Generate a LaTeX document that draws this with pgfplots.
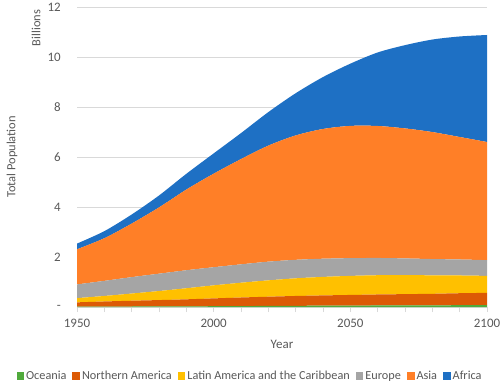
\documentclass[border=0pt]{standalone}
\usepackage{fontspec}
\setmainfont{Carlito}
\usepackage{pgfplots}
\pgfplotsset{compat=1.18}
\definecolor{cAfrica}{RGB}{30,112,196}
\definecolor{cAsia}{RGB}{255,127,39}
\definecolor{cEurope}{RGB}{165,165,165}
\definecolor{cLatam}{RGB}{255,192,0}
\definecolor{cNam}{RGB}{220,90,5}
\definecolor{cOce}{RGB}{80,170,60}
\definecolor{gridgray}{RGB}{217,217,217}
\definecolor{textgray}{RGB}{89,89,89}
\pgfplotstableread{
year oce nam latam europe asia africa
1950 0.013 0.173 0.169 0.549 1.405 0.228
1960 0.016 0.205 0.220 0.605 1.705 0.283
1970 0.020 0.231 0.287 0.657 2.142 0.363
1980 0.023 0.254 0.362 0.694 2.650 0.477
1990 0.027 0.280 0.443 0.721 3.226 0.630
2000 0.031 0.313 0.522 0.726 3.741 0.811
2010 0.037 0.343 0.591 0.736 4.210 1.039
2020 0.043 0.369 0.654 0.748 4.641 1.341
2030 0.048 0.393 0.706 0.741 4.974 1.688
2040 0.053 0.410 0.741 0.728 5.189 2.077
2050 0.057 0.425 0.762 0.710 5.290 2.489
2060 0.061 0.440 0.770 0.690 5.280 2.940
2070 0.064 0.450 0.760 0.670 5.200 3.330
2080 0.068 0.460 0.740 0.650 5.080 3.700
2090 0.071 0.480 0.710 0.640 4.900 4.020
2100 0.075 0.490 0.680 0.630 4.725 4.280
}\popdata
\begin{document}
\begin{tikzpicture}
\useasboundingbox (-77bp,-83bp) rectangle (423bp,307bp);
\begin{axis}[
  at={(0,0)}, anchor=south west,
  scale only axis, width=410bp, height=300bp,
  xmin=1950, xmax=2100, ymin=0, ymax=12,
  xtick={1950,2000,2050,2100},
  minor xtick={1960,1970,1980,1990,2010,2020,2030,2040,2060,2070,2080,2090},
  xticklabels={1950,2000,2050,2100},
  ytick={0,2,4,6,8,10,12},
  yticklabels={{-\hspace{6bp}},2,4,6,8,10,12},
  ymajorgrids, grid style={gridgray, line width=0.8pt},
  axis x line*=bottom, axis y line*=left,
  x axis line style={gridgray, line width=0.8pt, -},
  y axis line style={draw=none},
  tick align=outside,
  major tick length=5bp, minor tick length=5bp,
  tick style={gridgray, line width=0.8pt},
  ytick style={draw=none},
  every tick label/.append style={text=textgray, font=\fontsize{13}{15}\selectfont},
  yticklabel style={inner sep=0pt, xshift=-11bp},
  xticklabel style={inner sep=0pt, yshift=-7bp},
  stack plots=y,
  clip=false,
  legend columns=-1,
  legend style={at={(0.422,-0.23)}, anchor=center, draw=none,
    font=\fontsize{12.3}{14}\selectfont, text=textgray,
    /tikz/every even column/.append style={column sep=4bp}},
  legend image code/.code={\fill[#1] (0bp,-3.8bp) rectangle (7.6bp,3.8bp);},
  every axis plot/.append style={draw=none, smooth},
]
\addplot[fill=cOce] table[x=year,y=oce]{\popdata} \closedcycle;
\addlegendentry{Oceania}
\addplot[fill=cNam] table[x=year,y=nam]{\popdata} \closedcycle;
\addlegendentry{Northern America}
\addplot[fill=cLatam] table[x=year,y=latam]{\popdata} \closedcycle;
\addlegendentry{Latin America and the Caribbean}
\addplot[fill=cEurope] table[x=year,y=europe]{\popdata} \closedcycle;
\addlegendentry{Europe}
\addplot[fill=cAsia] table[x=year,y=asia]{\popdata} \closedcycle;
\addlegendentry{Asia}
\addplot[fill=cAfrica] table[x=year,y=africa]{\popdata} \closedcycle;
\addlegendentry{Africa}
\end{axis}
\node[rotate=90, text=textgray, font=\fontsize{12.5}{14}\selectfont] at (-65bp,150bp) {Total Population};
\node[rotate=90, text=textgray, font=\fontsize{12.5}{14}\selectfont] at (-41bp,279bp) {Billions};
\node[text=textgray, font=\fontsize{13}{15}\selectfont] at (205bp,-37bp) {Year};
\end{tikzpicture}
\end{document}
